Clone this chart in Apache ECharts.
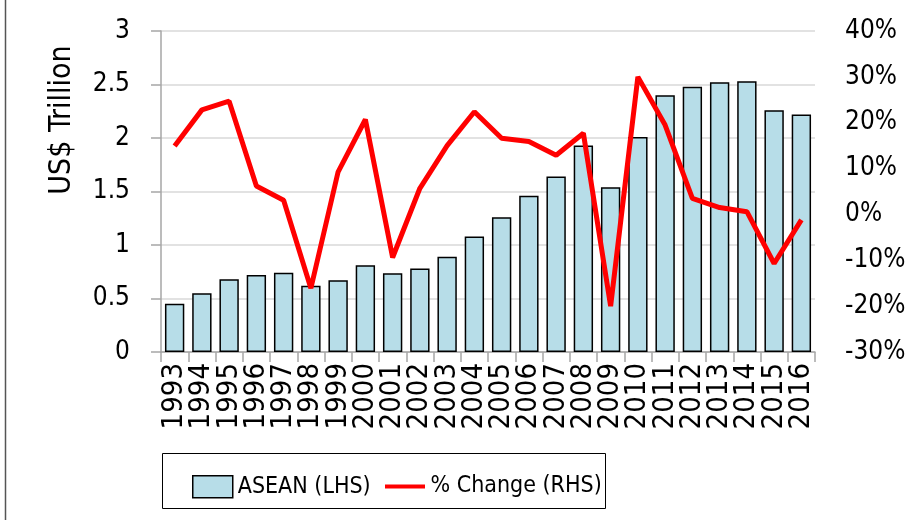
<!DOCTYPE html>
<html lang="en">
<head>
    <meta charset="UTF-8">
    <script src="https://cdn.jsdelivr.net/npm/echarts@6.0.0/dist/echarts.min.js"></script>
    <title>ASEAN</title>
    <style>
        html, body { margin: 0; padding: 0; background: #fff; }
    </style>
</head>
<body>
<div id="main" style="width: 923px;height:520px;"></div>
<script type="text/javascript">
    var years = ['1993', '1994', '1995', '1996', '1997', '1998', '1999', '2000', '2001', '2002', '2003', '2004',
        '2005', '2006', '2007', '2008', '2009', '2010', '2011', '2012', '2013', '2014', '2015', '2016'];
    // US$ trillion
    var aseanGdp = [0.45, 0.55, 0.68, 0.72, 0.74, 0.62, 0.67, 0.81, 0.735, 0.78, 0.89, 1.08,
        1.26, 1.46, 1.64, 1.93, 1.54, 2.01, 2.40, 2.48, 2.52, 2.53, 2.26, 2.22];
    // % change
    var pctChange = [14.9, 22.8, 24.7, 6.2, 3.1, -16.1, 9.3, 20.7, -9.4, 5.7, 15.0, 22.4,
        16.6, 15.9, 12.9, 17.7, -20.0, 30.0, 19.5, 3.5, 1.5, 0.6, -10.7, -1.2];

    var font = '"DejaVu Sans Condensed", "Liberation Sans Narrow", "Noto Sans", sans-serif';

    var chartDom = document.getElementById('main');
    var myChart = echarts.init(chartDom);
    var option = {
        animation: false,
        textStyle: { fontFamily: font, color: '#000' },
        grid: { left: 161, right: 108, top: 31, bottom: 168 },
        legend: [
            {
                left: 192, top: 475, padding: 0,
                itemWidth: 40, itemHeight: 22,
                textStyle: { fontSize: 23, fontFamily: font, color: '#000' },
                data: [{ name: 'ASEAN (LHS)', icon: 'rect', itemStyle: { color: '#b7dde8', borderColor: '#000', borderWidth: 1.5 } }]
            },
            {
                left: 385, top: 475, padding: 0,
                itemWidth: 41, itemHeight: 22,
                textStyle: { fontSize: 23, fontFamily: font, color: '#000' },
                data: [{
                    name: '% Change (RHS)',
                    icon: 'path://M0,0L0.01,0L0.01,0.01Z M0,9L40,9L40,13L0,13Z M0,22L0.01,22L0.01,21.99Z',
                    itemStyle: { color: '#ff0000' }
                }]
            }
        ],
        graphic: [
            { type: 'line', shape: { x1: 5.5, y1: 0, x2: 5.5, y2: 520 }, style: { stroke: '#555', lineWidth: 1.5 } },
            { type: 'rect', shape: { x: 162.5, y: 453.5, width: 443, height: 55 }, style: { fill: 'none', stroke: '#000', lineWidth: 1 } },
            {
                type: 'text', x: 62, y: 120, rotation: Math.PI / 2,
                style: { text: 'US$ Trillion', fontSize: 30, fontFamily: font, fill: '#000', align: 'center', verticalAlign: 'middle' }
            }
        ],
        xAxis: {
            type: 'category',
            data: years,
            axisLine: { lineStyle: { color: '#a6a6a6', width: 1.5 } },
            axisTick: { show: true, length: 10, lineStyle: { color: '#a6a6a6', width: 1.5 } },
            axisLabel: { rotate: 90, fontSize: 29, color: '#000', margin: 11, interval: 0 }
        },
        yAxis: [
            {
                type: 'value', min: 0, max: 3, interval: 0.5,
                axisLine: { show: true, lineStyle: { color: '#a6a6a6', width: 1.5 } },
                axisTick: { show: true, length: 10, lineStyle: { color: '#a6a6a6', width: 1.5 } },
                axisLabel: { fontSize: 26, color: '#000', margin: 31 },
                splitLine: { lineStyle: { color: '#d9d9d9', width: 1.5 } }
            },
            {
                type: 'value', min: -30, max: 40, interval: 10,
                axisLine: { show: false },
                axisTick: { show: false },
                axisLabel: { fontSize: 26, color: '#000', margin: 30, formatter: '{value}%' },
                splitLine: { show: false }
            }
        ],
        series: [
            {
                name: 'ASEAN (LHS)',
                type: 'bar',
                yAxisIndex: 0,
                barCategoryGap: '29%',
                itemStyle: { color: '#b7dde8', borderColor: '#000', borderWidth: 1.5 },
                data: aseanGdp
            },
            {
                name: '% Change (RHS)',
                type: 'line',
                yAxisIndex: 1,
                showSymbol: false,
                symbol: 'none',
                lineStyle: { color: '#ff0000', width: 5 },
                itemStyle: { color: '#ff0000' },
                data: pctChange
            }
        ]
    };
    myChart.setOption(option);
</script>
</body>
</html>
